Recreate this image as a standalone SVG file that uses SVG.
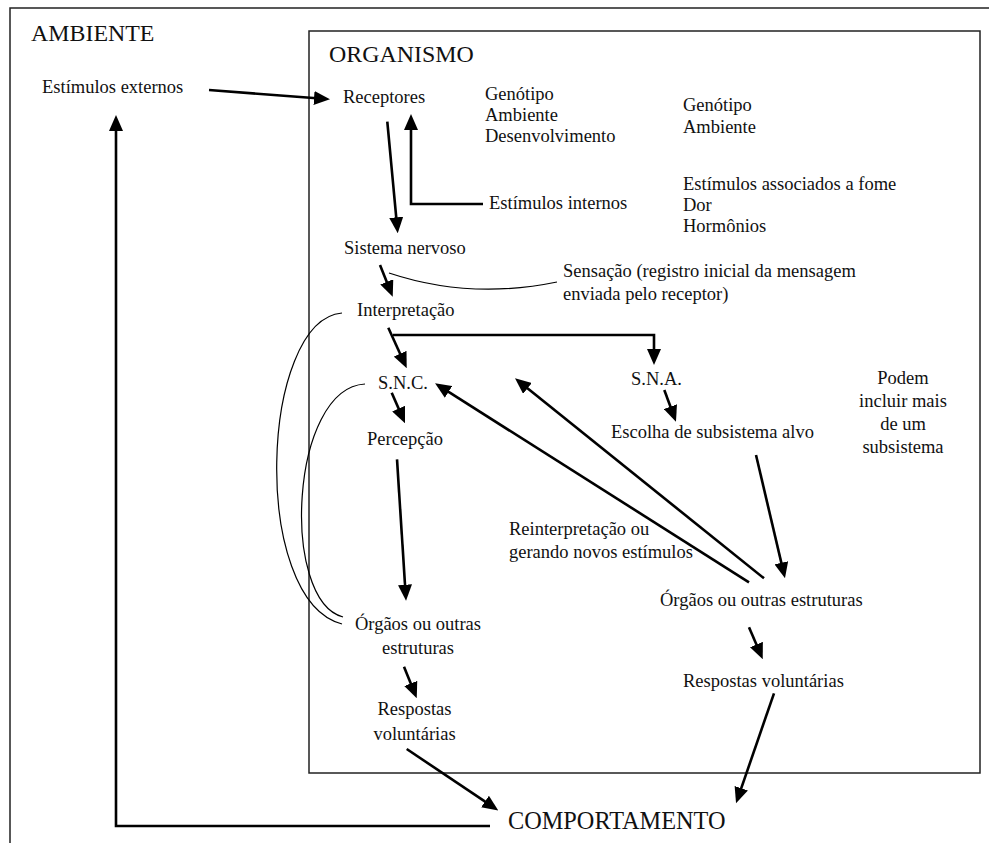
<svg xmlns="http://www.w3.org/2000/svg" width="989" height="843" viewBox="0 0 989 843" font-family="Liberation Serif, Times New Roman, serif">
<style>
  text { fill: #111; }
  .b { font-size: 18.5px; }
  .h { font-size: 23.9px; }
  .c { text-anchor: middle; }
  .frame { fill: none; stroke: #222; stroke-width: 1.5; }
  .arr { fill: none; stroke: #000; stroke-width: 2.6; marker-end: url(#ah); }
  .thin { fill: none; stroke: #000; stroke-width: 1.2; }
</style>
<defs>
  <marker id="ah" markerWidth="16" markerHeight="14" refX="6" refY="7" orient="auto" markerUnits="userSpaceOnUse">
    <path d="M0,0 L16,7 L0,14 z" fill="#000"/>
  </marker>
</defs>
<rect width="989" height="843" fill="#fff"/>

<g id="ambiente">
  <path class="frame" d="M10,843 V8 H989"/>
  <text class="h" x="31" y="41">AMBIENTE</text>
</g>
<g id="organismo">
  <rect class="frame" x="309" y="31" width="671" height="742"/>
  <text class="h" x="329" y="62">ORGANISMO</text>
</g>

<g id="estimulos-externos"><text class="b" x="42" y="93">Estímulos externos</text></g>
<g id="receptores"><text class="b" x="343" y="103">Receptores</text></g>
<g id="fatores1">
  <text class="b" x="485" y="100">Genótipo</text>
  <text class="b" x="485" y="121">Ambiente</text>
  <text class="b" x="485" y="142">Desenvolvimento</text>
</g>
<g id="fatores2">
  <text class="b" x="683" y="111">Genótipo</text>
  <text class="b" x="683" y="133">Ambiente</text>
</g>
<g id="fatores3">
  <text class="b" x="683" y="190">Estímulos associados a fome</text>
  <text class="b" x="683" y="211">Dor</text>
  <text class="b" x="683" y="232">Hormônios</text>
</g>
<g id="estimulos-internos"><text class="b" x="489" y="209">Estímulos internos</text></g>
<g id="sistema-nervoso"><text class="b" x="344" y="254">Sistema nervoso</text></g>
<g id="sensacao">
  <text class="b" x="563" y="277">Sensação (registro inicial da mensagem</text>
  <text class="b" x="563" y="300">enviada pelo receptor)</text>
</g>
<g id="interpretacao"><text class="b" x="357" y="316">Interpretação</text></g>
<g id="snc"><text class="b" x="378" y="389">S.N.C.</text></g>
<g id="sna"><text class="b" x="631" y="385">S.N.A.</text></g>
<g id="percepcao"><text class="b" x="367" y="445">Percepção</text></g>
<g id="escolha"><text class="b" x="611" y="438">Escolha de subsistema alvo</text></g>
<g id="podem">
  <text class="b c" x="903" y="384">Podem</text>
  <text class="b c" x="903" y="407">incluir mais</text>
  <text class="b c" x="903" y="430">de um</text>
  <text class="b c" x="903" y="453">subsistema</text>
</g>
<g id="reinterpretacao">
  <text class="b" x="509" y="535">Reinterpretação ou</text>
  <text class="b" x="509" y="558">gerando novos estímulos</text>
</g>
<g id="orgaos-esq">
  <text class="b c" x="418" y="630">Órgãos ou outras</text>
  <text class="b c" x="418" y="654">estruturas</text>
</g>
<g id="orgaos-dir"><text class="b" x="660" y="606">Órgãos ou outras estruturas</text></g>
<g id="respostas-esq">
  <text class="b c" x="414.5" y="715">Respostas</text>
  <text class="b c" x="414.5" y="740">voluntárias</text>
</g>
<g id="respostas-dir"><text class="b" x="683" y="687">Respostas voluntárias</text></g>
<g id="comportamento"><text class="h" x="508" y="829" style="font-size:24.3px">COMPORTAMENTO</text></g>

<g id="connectors">
  <line class="arr" x1="209" y1="90" x2="320" y2="98.5"/>
  <line class="arr" x1="387.3" y1="121.7" x2="396.8" y2="223.3"/>
  <path class="arr" d="M483,204 H411 V124"/>
  <line class="arr" x1="380" y1="265" x2="389" y2="287.4"/>
  <path class="thin" d="M389,273 Q470,300 557,282"/>
  <line class="arr" x1="388.3" y1="327.7" x2="402.6" y2="359.2"/>
  <path class="arr" d="M393,335 H654 V355"/>
  <line class="arr" x1="391.7" y1="392.7" x2="401" y2="414.1"/>
  <line class="arr" x1="664.3" y1="390" x2="672.5" y2="412.3"/>
  <line class="arr" x1="397" y1="459.3" x2="405.4" y2="590.7"/>
  <line class="arr" x1="756" y1="455" x2="782.7" y2="568.6"/>
  <line class="arr" x1="749" y1="582.3" x2="443.5" y2="388.7"/>
  <line class="arr" x1="764" y1="578.3" x2="522.8" y2="384.6"/>
  <line class="arr" x1="404" y1="666.7" x2="413" y2="689"/>
  <line class="arr" x1="749" y1="627.3" x2="758.8" y2="650.1"/>
  <line class="arr" x1="406.7" y1="749" x2="490" y2="804.9"/>
  <line class="arr" x1="774" y1="693.3" x2="739.3" y2="793.9"/>
  <path class="arr" d="M490,826 H116 V125"/>
  <path class="thin" d="M342,313 C260,320 250,600 342,624"/>
  <path class="thin" d="M365,384 C290,388 280,600 343,617"/>
</g>
</svg>
